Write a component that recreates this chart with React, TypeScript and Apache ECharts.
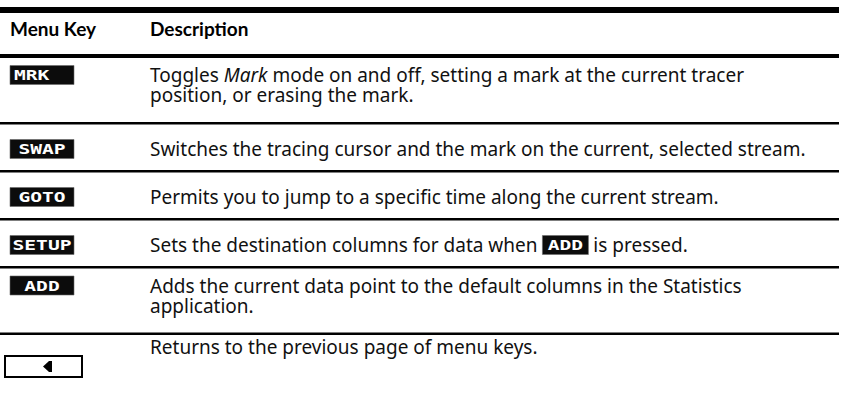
import React, { useEffect, useRef } from "react";
import * as echarts from "echarts";

// ---- content ----
const headers = ["Menu Key", "Description"];
const menuKeys = ["MRK", "SWAP", "GOTO", "SETUP", "ADD", ""];
const keyKinds = ["menu", "menu", "menu", "menu", "menu", "arrow"];
// *text* = italic, [KEY] = inline menu key
const descriptions: string[][] = [
  ["Toggles *Mark* mode on and off, setting a mark at the current tracer", "position, or erasing the mark."],
  ["Switches the tracing cursor and the mark on the current, selected stream."],
  ["Permits you to jump to a specific time along the current stream."],
  ["Sets the destination columns for data when [ADD] is pressed."],
  ["Adds the current data point to the default columns in the Statistics", "application."],
  ["Returns to the previous page of menu keys."],
];

// ---- layout / style ----
const W = 841;
const H = 397;
const RIGHT = 839;
const COL1_X = 10;
const COL2_X = 150;
const BODY_FONT = "'Noto Sans'";
const BODY_SIZE = 19;
const LINE_GAP = 20;
const HEAD_FONT = "Lato";
const HEAD_SIZE = 19;
const KEY_FONT = "bold 14px 'DejaVu Sans Mono'";
const KEY_SCALE = 1.4;
const KEY_W = 64;
const KEY_H = 19;
const INLINE_KEY_W = 46;

function measure(ctx: CanvasRenderingContext2D, text: string, italic: boolean) {
  ctx.font = `${italic ? "italic " : ""}${BODY_SIZE}px ${BODY_FONT}`;
  return ctx.measureText(text).width;
}

function keyBox(label: string, x: number, cy: number, w: number, leftAlign: boolean): any[] {
  return [
    {
      type: "rect",
      shape: { x, y: cy - KEY_H / 2, width: w, height: KEY_H },
      style: { fill: "#0c0c0c", stroke: "#6a6a6a", lineWidth: 0.6 },
    },
    {
      type: "text",
      x: leftAlign ? x + 4 : x + w / 2,
      y: cy + 0.5,
      scaleX: KEY_SCALE,
      style: {
        text: label,
        x: 0,
        y: 0,
        fill: "#ffffff",
        font: KEY_FONT,
        lineHeight: 14,
        align: leftAlign ? "left" : "center",
        verticalAlign: "middle",
      },
    },
  ];
}

function buildGraphics(): any[] {
  const canvas = document.createElement("canvas");
  const ctx = canvas.getContext("2d") as CanvasRenderingContext2D;
  const g: any[] = [];

  // top thick bar
  g.push({ type: "rect", shape: { x: 0, y: 7, width: RIGHT, height: 6 }, style: { fill: "#000" } });
  // header
  const headXs = [COL1_X, COL2_X];
  headers.forEach((h, i) => {
    g.push({
      type: "text",
      x: headXs[i],
      y: 28,
      style: { text: h, fill: "#000", font: `bold ${HEAD_SIZE}px ${HEAD_FONT}`, align: "left", verticalAlign: "middle" },
    });
  });
  g.push({ type: "rect", shape: { x: 0, y: 54, width: RIGHT, height: 4 }, style: { fill: "#000" } });

  let top = 58;
  const RULE_H = 2.5;
  descriptions.forEach((lines, r) => {
    const last = r === descriptions.length - 1;
    const double = lines.length > 1;
    const rowH = double ? 64 : 45.5;
    const firstCy = last ? top + 12 : double ? top + 17 : top + 24.5;

    // key
    if (keyKinds[r] === "menu") {
      const leftAlign = menuKeys[r].length <= 3 && menuKeys[r] !== "ADD";
      g.push(...keyBox(menuKeys[r], COL1_X, firstCy, KEY_W, leftAlign));
    } else {
      const by = top + 21;
      g.push({
        type: "rect",
        shape: { x: 5, y: by, width: 77, height: 21 },
        style: { fill: "#fff", stroke: "#000", lineWidth: 2 },
      });
      const cy = by + 10.5;
      g.push({
        type: "polygon",
        shape: { points: [[43, cy], [49, cy - 5.5], [49, cy + 5.5]] },
        style: { fill: "#000" },
      });
      g.push({ type: "rect", shape: { x: 49, y: cy - 5.5, width: 3, height: 11 }, style: { fill: "#000" } });
    }

    // description lines
    lines.forEach((line, li) => {
      const cy = firstCy + li * LINE_GAP;
      const parts = line.split(/(\*[^*]+\*|\[[^\]]+\])/).filter((p) => p.length > 0);
      let x = COL2_X;
      parts.forEach((p) => {
        if (p.startsWith("[")) {
          const label = p.slice(1, -1);
          g.push(...keyBox(label, x, cy, INLINE_KEY_W, false));
          x += INLINE_KEY_W;
        } else {
          const italic = p.startsWith("*");
          const t = italic ? p.slice(1, -1) : p;
          g.push({
            type: "text",
            x,
            y: cy,
            style: {
              text: t,
              fill: "#111",
              font: `${italic ? "italic " : ""}${BODY_SIZE}px ${BODY_FONT}`,
              lineHeight: LINE_GAP - 1,
              align: "left",
              verticalAlign: "middle",
            },
          });
          x += measure(ctx, t, italic);
        }
      });
    });

    top += rowH;
    if (!last) {
      g.push({ type: "rect", shape: { x: 0, y: top, width: RIGHT, height: RULE_H }, style: { fill: "#000" } });
      top += RULE_H;
    }
  });
  return g;
}

export default function App() {
  const ref = useRef<HTMLDivElement>(null);
  useEffect(() => {
    document.body.style.margin = "0";
    if (!ref.current) return;
    const chart = echarts.init(ref.current, undefined, { renderer: "svg" });
    chart.setOption({
      animation: false,
      backgroundColor: "#ffffff",
      graphic: { elements: buildGraphics() },
    });
    return () => chart.dispose();
  }, []);
  return <div ref={ref} style={{ width: W, height: H }} />;
}
